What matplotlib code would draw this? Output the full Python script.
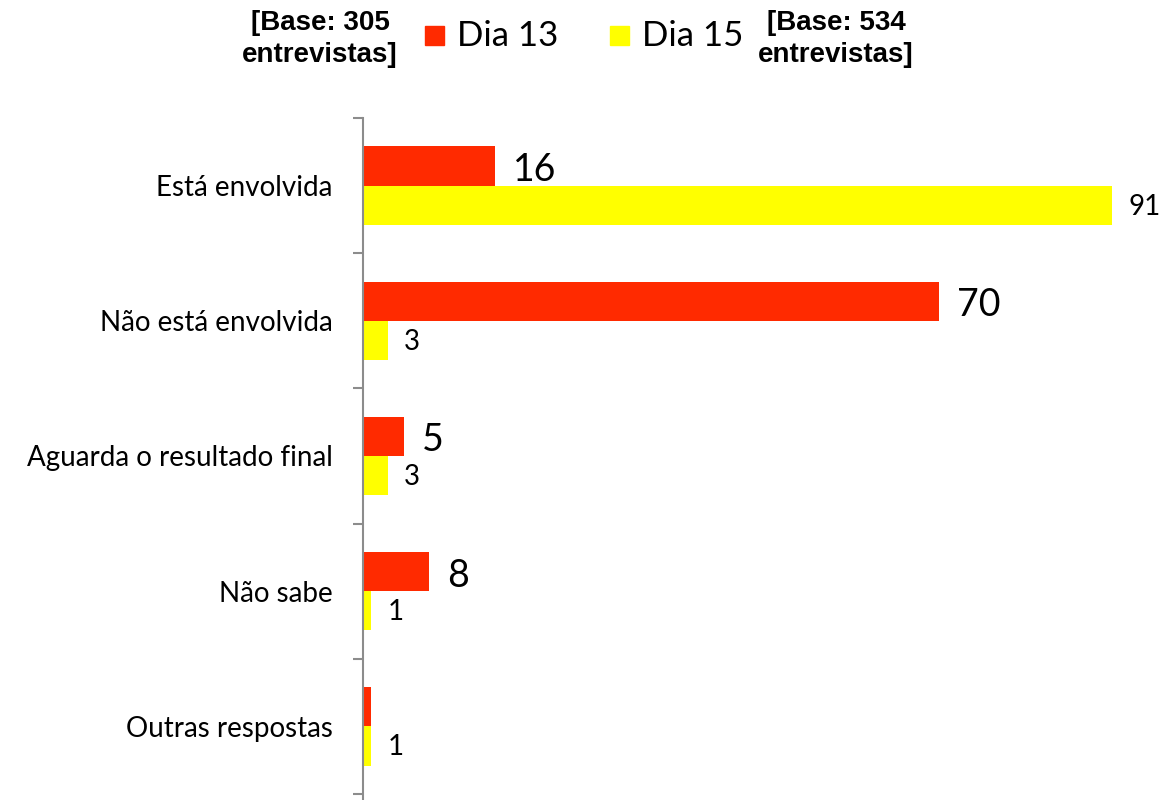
import numpy as np
import matplotlib
matplotlib.use('Agg')
import matplotlib.pyplot as plt
from matplotlib.patches import Rectangle

# ---------------------------------------------------------------
# data
categories = ['Está envolvida', 'Não está envolvida', 'Aguarda o resultado final',
              'Não sabe', 'Outras respostas']
dia13 = [16, 70, 5, 8, 1]
dia15 = [91, 3, 3, 1, 1]
dia13_labels = ['16', '70', '5', '8', '']
dia15_labels = ['91', '3', '3', '1', '1']
series_names = ['Dia 13', 'Dia 15']
base_left = '[Base: 305\nentrevistas]'
base_right = '[Base: 534\nentrevistas]'

RED = '#FF2A00'
YELLOW = '#FFFF00'
W, H = 1167, 800

plt.rcParams['font.family'] = ['Lato', 'DejaVu Sans']

fig = plt.figure(figsize=(W / 100, H / 100), dpi=100)
ax = fig.add_axes([363 / W, 0.0, (W - 363) / W, (800 - 118) / H])

y = np.arange(len(categories))
bh = 0.29
b13 = ax.barh(y - bh, dia13, height=bh, align='edge', color=RED)
b15 = ax.barh(y, dia15, height=bh, align='edge', color=YELLOW)

px = (1112 - 363) / 91.0  # pixels per unit
ax.set_xlim(0, (W - 363) / px)
ax.set_ylim(4.5 + 6 / 135.0, -0.5)

for yi, v, lab in zip(y, dia13, dia13_labels):
    if lab:
        ax.text(v + 18 / px, yi - bh / 2 + 0.03, lab, fontsize=27,
                va='center', ha='left', color='black')
for yi, v, lab in zip(y, dia15, dia15_labels):
    ax.text(v + 16 / px, yi + bh / 2 + 0.01, lab, fontsize=20,
            va='center', ha='left', color='black')

# category labels and boundary ticks
ax.set_yticks(y)
ax.set_yticklabels(categories, fontsize=20)
ax.tick_params(axis='y', which='major', length=0, pad=22)
ax.set_yticks(np.arange(-0.5, len(categories), 1.0), minor=True)
ax.tick_params(axis='y', which='minor', length=7, width=1.5, color='#8c8c8c')
ax.set_xticks([])
for s in ['top', 'right', 'bottom']:
    ax.spines[s].set_visible(False)
ax.spines['left'].set_color('#8c8c8c')
ax.spines['left'].set_linewidth(1.5)

# legend drawn by hand at the top
sq = 19
for x0, col, name in zip([425, 610], [RED, YELLOW], series_names):
    fig.patches.append(Rectangle((x0 / W, 1 - 45 / H), sq / W, sq / H,
                                 transform=fig.transFigure, color=col))
    fig.text((x0 + 32) / W, 1 - 36 / H, name, fontsize=25,
             ha='left', va='center')

fig.text(320 / W, 1 - 39 / H, base_left, ha='center', va='center',
         fontsize=20, fontweight='bold', family=['Liberation Sans', 'DejaVu Sans'],
         linespacing=1.25)
fig.text(836 / W, 1 - 39 / H, base_right, ha='center', va='center',
         fontsize=20, fontweight='bold', family=['Liberation Sans', 'DejaVu Sans'],
         linespacing=1.25)

fig.savefig('out.png', dpi=100)
